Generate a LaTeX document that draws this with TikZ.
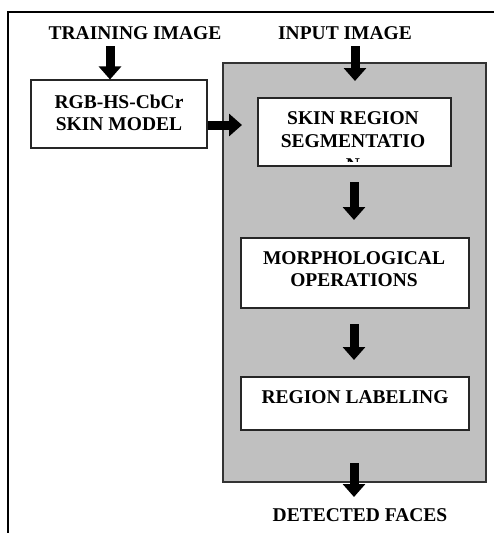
\documentclass[tikz,border=0pt]{standalone}
\usepackage{fontspec}
\setmainfont{Liberation Serif}
\usetikzlibrary{arrows.meta}
\definecolor{panelgray}{HTML}{C0C0C0}
\tikzset{
  box/.style={draw=black!85, line width=1.1pt, fill=white, inner sep=0pt},
  lbl/.style={font=\fontsize{19.5}{23}\selectfont\bfseries, inner sep=0pt, anchor=base},
  fat/.style={line width=9pt, -{Triangle[width=22pt,length=13pt]}}
}
\begin{document}
\begin{tikzpicture}[x=1pt,y=-1pt]
\useasboundingbox (0,0) rectangle (494,533);
\fill[white] (0,0) rectangle (494,533);
% outer frame (open at right and bottom)
\draw[line width=2pt] (8,545) -- (8,12) -- (505,12);
% gray panel
\node[draw=black!80, line width=1.1pt, fill=panelgray, inner sep=0pt, minimum width=263pt, minimum height=419pt] (panel) at (354.5,272.5) {};
% boxes
\node[box, minimum width=176pt, minimum height=68pt] (rgb) at (119,114) {};
\node[box, minimum width=193pt, minimum height=68pt] (skin) at (354.5,132) {};
\node[box, minimum width=228pt, minimum height=70pt] (morph) at (355,273) {};
\node[box, minimum width=228pt, minimum height=53pt] (reg) at (355,403.5) {};
% texts
\node[lbl] (ttrain) at (135,39) {TRAINING IMAGE};
\node[lbl] (tinput) at (345,39) {INPUT IMAGE};
\node[lbl] (trgb1) at (119,108.5) {RGB-HS-CbCr};
\node[lbl] (trgb2) at (119,130.5) {SKIN MODEL};
\node[lbl] (tskin1) at (353,124) {SKIN REGION};
\node[lbl] (tskin2) at (353,147.5) {SEGMENTATIO};
\begin{scope}
\clip (258,98) rectangle (451,161.5);
\node[lbl] (tskin3) at (353,171) {N};
\end{scope}
\node[lbl] (tmorph1) at (354,264.5) {MORPHOLOGICAL};
\node[lbl] (tmorph2) at (354,286.5) {OPERATIONS};
\node[lbl] (treg) at (355,403.5) {REGION LABELING};
\node[lbl] (tdet) at (360,521.5) {DETECTED FACES};
% arrow end points
\coordinate (a1s) at (110,46);
\coordinate (a2s) at (355,46);
\coordinate (a2e) at (355,81);
\coordinate (a3e) at (242,125);
\coordinate (a4s) at (354,182);
\coordinate (a4e) at (354,220);
\coordinate (a5s) at (354,324);
\coordinate (a5e) at (354,360);
\coordinate (a6s) at (354,463);
\coordinate (a6e) at (354,497);
% arrows
\draw[fat] (a1s) -- (a1s |- rgb.north);
\draw[fat] (a2s) -- (a2e);
\draw[fat] (rgb.east |- a3e) -- (a3e);
\draw[fat] (a4s) -- (a4e);
\draw[fat] (a5s) -- (a5e);
\draw[fat] (a6s) -- (a6e);
\end{tikzpicture}
\end{document}
